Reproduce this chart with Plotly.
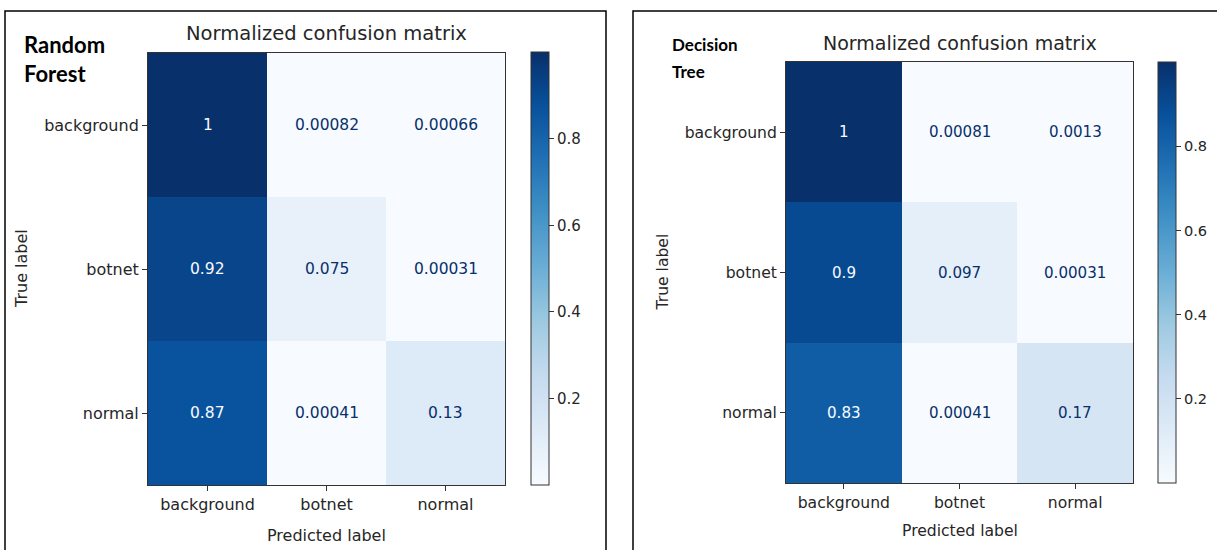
import plotly.graph_objects as go

W, H = 1217, 550

labels = ["background", "botnet", "normal"]

# Row-normalized confusion matrices (rows: true label, columns: predicted label)
rf_matrix = [
    [1.0, 0.00082, 0.00066],
    [0.92, 0.075, 0.00031],
    [0.87, 0.00041, 0.13],
]
dt_matrix = [
    [1.0, 0.00081, 0.0013],
    [0.9, 0.097, 0.00031],
    [0.83, 0.00041, 0.17],
]

cbar_ticks = [0.2, 0.4, 0.6, 0.8]

blues = [
    "rgb(247,251,255)", "rgb(222,235,247)", "rgb(198,219,239)",
    "rgb(158,202,225)", "rgb(107,174,214)", "rgb(66,146,198)",
    "rgb(33,113,181)", "rgb(8,81,156)", "rgb(8,48,107)",
]
colorscale = [[i / (len(blues) - 1), c] for i, c in enumerate(blues)]

FONT = "DejaVu Sans"
TXT = "#262626"


def px_x(x):
    return x / W


def px_y(y):
    return 1 - y / H


# pixel boxes for each panel: heatmap area, colorbar, labels
panels = [
    dict(name="rf", z=rf_matrix, xa="x", ya="y",
         box=(148, 505, 53, 485), cbar=(531, 52, 485), fs=16,
         title_y=33, xlabel_y=535, ylabel_x=22,
         tag=["Random", "Forest"], tag_x=22, tag_y=[45, 74], tag_fs=22),
    dict(name="dt", z=dt_matrix, xa="x2", ya="y2",
         box=(786, 1133, 62, 483), cbar=(1158, 62, 483), fs=15.6,
         title_y=43, xlabel_y=531, ylabel_x=662,
         tag=["Decision", "Tree"], tag_x=670, tag_y=[45, 72], tag_fs=17),
]

fig = go.Figure()
annotations = []
shapes = []

for i, p in enumerate(panels):
    z = p["z"]
    flat = [v for row in z for v in row]
    zmin, zmax = min(flat), max(flat)
    x0, x1, y0, y1 = p["box"]
    cx, cy0, cy1 = p["cbar"]

    fig.add_trace(go.Heatmap(
        z=z, x=labels, y=labels, xaxis=p["xa"], yaxis=p["ya"],
        colorscale=colorscale, zmin=zmin, zmax=zmax,
        hoverinfo="skip",
        colorbar=dict(
            x=px_x(cx), xanchor="left", xpad=0,
            y=px_y(cy1), yanchor="bottom", ypad=0,
            lenmode="pixels", len=cy1 - cy0,
            thickness=18, thicknessmode="pixels",
            outlinewidth=1, outlinecolor="#333",
            tickvals=cbar_ticks, ticks="outside", ticklen=5,
            tickcolor="#333", tickwidth=1,
            tickfont=dict(family=FONT, size=p["fs"] - 1, color=TXT),
        ),
    ))

    # cell value labels, light text on dark cells and dark text on light cells
    thresh = (zmin + zmax) / 2
    for r, row in enumerate(z):
        for c, v in enumerate(row):
            annotations.append(dict(
                x=labels[c], y=labels[r],
                xref=p["xa"], yref=p["ya"],
                text=f"{v:.2g}", showarrow=False,
                font=dict(family=FONT, size=p["fs"] - 0.5,
                          color=blues[0] if v >= thresh else blues[-1]),
            ))

    xc = (x0 + x1) / 2
    annotations += [
        dict(x=px_x(xc), y=px_y(p["title_y"]), xref="paper", yref="paper",
             text="Normalized confusion matrix", showarrow=False,
             xanchor="center", yanchor="middle",
             font=dict(family=FONT, size=p["fs"] * 1.22, color=TXT)),
        dict(x=px_x(xc), y=px_y(p["xlabel_y"]), xref="paper", yref="paper",
             text="Predicted label", showarrow=False,
             xanchor="center", yanchor="middle",
             font=dict(family=FONT, size=p["fs"], color=TXT)),
        dict(x=px_x(p["ylabel_x"]), y=px_y((y0 + y1) / 2), xref="paper",
             yref="paper", text="True label", showarrow=False, textangle=-90,
             xanchor="center", yanchor="middle",
             font=dict(family=FONT, size=p["fs"], color=TXT)),
    ]
    for word, ty in zip(p["tag"], p["tag_y"]):
        annotations.append(dict(
            x=px_x(p["tag_x"]), y=px_y(ty), xref="paper", yref="paper",
            text=f"<b>{word}</b>", showarrow=False,
            xanchor="left", yanchor="middle",
            font=dict(family="Lato", size=p["tag_fs"], color="black"),
        ))

    axis_common = dict(
        showline=True, mirror=True, linecolor="#333", linewidth=1,
        ticks="outside", ticklen=5, tickcolor="#333", tickwidth=1,
        showgrid=False, zeroline=False, fixedrange=True,
        tickfont=dict(family=FONT, size=p["fs"], color=TXT),
    )
    sfx = "" if i == 0 else "2"
    fig.update_layout(**{
        f"xaxis{sfx}": dict(domain=[px_x(x0), px_x(x1)],
                            anchor=p["ya"], **axis_common),
        f"yaxis{sfx}": dict(domain=[px_y(y1), px_y(y0)],
                            anchor=p["xa"], autorange="reversed",
                            **axis_common),
    })

# outer frames around each panel
for bx0, bx1 in [(5, 606), (633, 1230)]:
    shapes.append(dict(type="rect", xref="paper", yref="paper",
                       x0=px_x(bx0), x1=px_x(bx1), y0=px_y(570), y1=px_y(11),
                       line=dict(color="black", width=1.5)))

fig.update_layout(
    width=W, height=H, margin=dict(l=0, r=0, t=0, b=0),
    paper_bgcolor="white", plot_bgcolor="white",
    annotations=annotations, shapes=shapes, showlegend=False,
)

fig.write_html("out.html")
